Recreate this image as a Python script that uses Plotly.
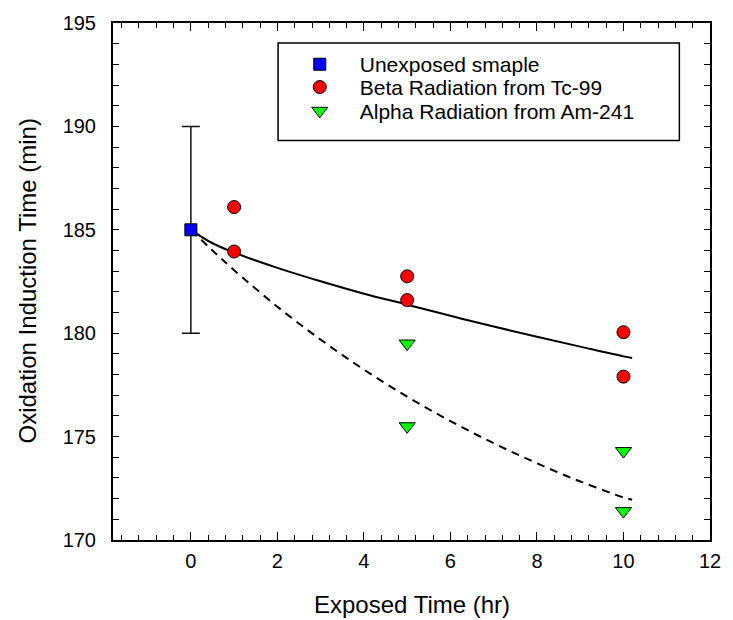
import plotly.graph_objects as go

# Measured oxidation induction times
unexposed_t = [0]
unexposed_oit = [185.0]
unexposed_err = [5.0]

beta_t = [1, 1, 5, 5, 10, 10]
beta_oit = [186.1, 183.95, 182.75, 181.6, 180.05, 177.9]

alpha_t = [5, 5, 10, 10]
alpha_oit = [179.5, 175.5, 174.3, 171.4]

# Fitted trend lines (sampled along each fit)
fit_t = [0, 0.5, 1, 2, 3, 4, 5, 6, 7, 8, 9, 10, 10.2]
beta_fit = [185.0, 184.35, 183.9, 183.16, 182.51, 181.91, 181.38, 180.84, 180.32, 179.83, 179.35, 178.88, 178.8]
alpha_fit = [185.0, 184.0, 183.05, 181.28, 179.69, 178.24, 176.93, 175.75, 174.68, 173.71, 172.83, 172.06, 171.95]

FONT = "Liberation Sans, Arial, sans-serif"
PLOT_L, PLOT_R, PLOT_T, PLOT_B = 113, 717, 18, 540


def px_x(x):
    return (x - PLOT_L) / (PLOT_R - PLOT_L)


def px_y(y):
    return (PLOT_B - y) / (PLOT_B - PLOT_T)


fig = go.Figure()

fig.add_trace(go.Scatter(
    x=fit_t, y=beta_fit, mode="lines", showlegend=False,
    line=dict(color="black", width=2, shape="spline", smoothing=1.0),
))
fig.add_trace(go.Scatter(
    x=fit_t, y=alpha_fit, mode="lines", showlegend=False,
    line=dict(color="black", width=2, dash="8px,6px", shape="spline", smoothing=1.0),
))

fig.add_trace(go.Scatter(
    x=unexposed_t, y=unexposed_oit, mode="markers", name="Unexposed smaple",
    legend="legend",
    marker=dict(symbol="square", size=12, color="#0000ff", line=dict(color="black", width=1)),
    error_y=dict(type="data", array=unexposed_err, visible=True, color="#111111",
                 thickness=1.5, width=9),
))
fig.add_trace(go.Scatter(
    x=beta_t, y=beta_oit, mode="markers", name="Beta Radiation from Tc-99",
    legend="legend2",
    marker=dict(symbol="circle", size=13, color="#ff0000", line=dict(color="black", width=1)),
))
fig.add_trace(go.Scatter(
    x=alpha_t, y=alpha_oit, mode="markers", name="Alpha Radiation from Am-241",
    legend="legend3",
    marker=dict(symbol="triangle-down", size=14, color="#00ff00", line=dict(color="black", width=1)),
))

axis_common = dict(
    showline=True, linecolor="black", linewidth=2, mirror="ticks",
    ticks="inside", tickcolor="black", tickwidth=1,
    showgrid=False, zeroline=False,
    tickfont=dict(family=FONT, size=20, color="black"),
)

fig.update_xaxes(
    range=[-1.8, 12], tickmode="linear", tick0=0, dtick=2, ticklen=8,
    minor=dict(ticks="inside", dtick=0.4, tick0=0, ticklen=5, tickcolor="black", tickwidth=1),
    ticklabelstandoff=2,
    **axis_common,
)
fig.update_yaxes(
    range=[170, 195], tickmode="linear", tick0=170, dtick=5, ticklen=6,
    minor=dict(ticks="inside", dtick=1, tick0=170, ticklen=6, tickcolor="black", tickwidth=1),
    ticklabelstandoff=11,
    **axis_common,
)

# Legend frame
fig.add_shape(type="rect", xref="paper", yref="paper",
              x0=px_x(280), x1=px_x(686), y0=px_y(136.7), y1=px_y(38.3),
              line=dict(color="black", width=1.5), fillcolor="rgba(0,0,0,0)")

fig.add_annotation(text="Exposed Time (hr)", xref="paper", yref="paper",
                   x=0.5, y=px_y(605), xanchor="center", yanchor="middle",
                   showarrow=False, font=dict(family=FONT, size=24, color="black"))
fig.add_annotation(text="Oxidation Induction Time (min)", xref="paper", yref="paper",
                   x=px_x(26), y=0.5, xanchor="center", yanchor="middle",
                   textangle=-90, showarrow=False,
                   font=dict(family=FONT, size=24, color="black"))

legend_style = dict(
    x=px_x(281.7), xanchor="left", yanchor="middle",
    bgcolor="rgba(0,0,0,0)", borderwidth=0, itemwidth=70,
    font=dict(family=FONT, size=21, color="black"),
)

fig.update_layout(
    width=733, height=620,
    margin=dict(l=PLOT_L, r=733 - PLOT_R, t=PLOT_T, b=620 - PLOT_B),
    plot_bgcolor="white", paper_bgcolor="white",
    legend=dict(y=px_y(60), **legend_style),
    legend2=dict(y=px_y(83), **legend_style),
    legend3=dict(y=px_y(107), **legend_style),
)

fig.write_html("out.html")
